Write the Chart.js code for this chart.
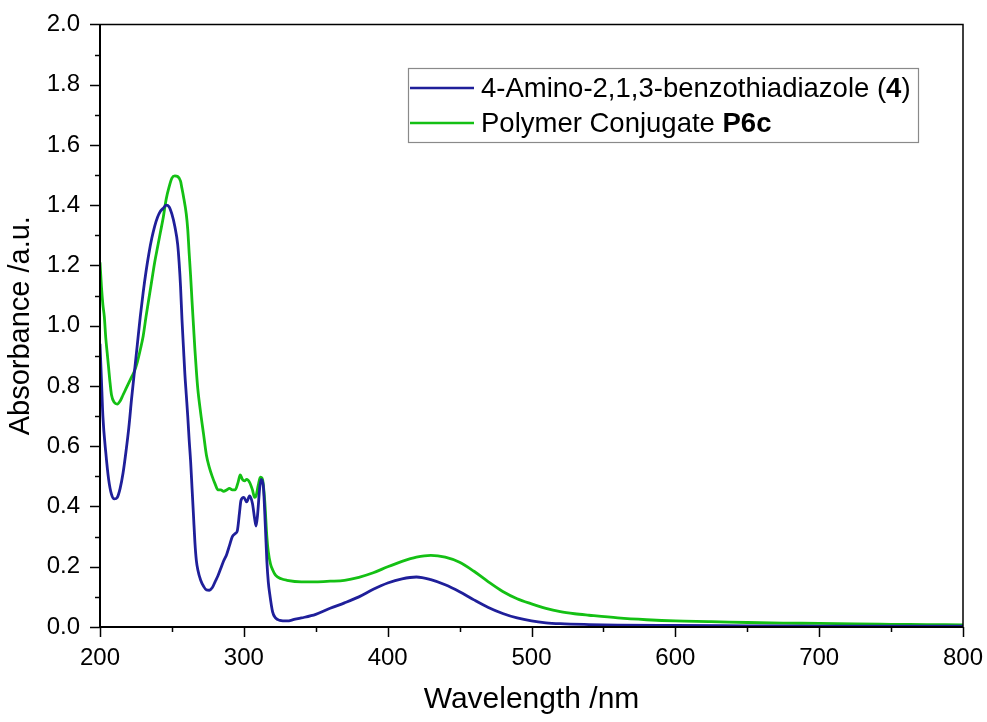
<!DOCTYPE html>
<html>
<head>
<meta charset="utf-8">
<title>UV-Vis absorbance</title>
<script src="https://cdn.jsdelivr.net/npm/chart.js@4/dist/chart.umd.min.js"></script>
<style>
  html, body { margin: 0; padding: 0; background: #ffffff; }
  #chart { display: block; }
</style>
</head>
<body>
<canvas id="chart" width="987" height="722"></canvas>
<script>
// Absorption spectrum of 4-amino-2,1,3-benzothiadiazole (4)
const amineWavelength = [200, 201, 202, 204, 206, 208, 210, 212, 214, 216, 218, 220, 222, 224, 226, 228, 230, 232, 234, 236, 238, 240, 242, 244, 246, 248, 250, 252, 254, 255, 256, 257, 258, 259, 260, 261, 262, 263, 264, 265, 266, 267, 268, 270, 272, 274, 276, 278, 280, 282, 284, 286, 288, 290, 292, 294, 295.5, 297, 298, 300, 302, 304, 306, 307.5, 308.5, 309.5, 311, 312, 313.5, 315, 316, 317, 318, 320, 322, 325, 330, 335, 340, 350, 360, 370, 380, 390, 400, 410, 420, 430, 440, 450, 460, 470, 480, 490, 500, 510, 520, 540, 560, 600, 650, 700, 750, 800];
const amineAbs = [0.94, 0.82, 0.70, 0.58, 0.49, 0.44, 0.425, 0.43, 0.46, 0.51, 0.58, 0.66, 0.76, 0.85, 0.94, 1.03, 1.11, 1.18, 1.24, 1.29, 1.33, 1.36, 1.38, 1.39, 1.40, 1.395, 1.37, 1.33, 1.27, 1.21, 1.13, 1.02, 0.93, 0.84, 0.77, 0.70, 0.62, 0.55, 0.46, 0.37, 0.28, 0.22, 0.19, 0.155, 0.135, 0.123, 0.122, 0.13, 0.15, 0.17, 0.195, 0.22, 0.24, 0.27, 0.30, 0.31, 0.32, 0.38, 0.42, 0.43, 0.415, 0.435, 0.41, 0.36, 0.335, 0.37, 0.46, 0.49, 0.47, 0.33, 0.22, 0.15, 0.11, 0.05, 0.03, 0.022, 0.02, 0.025, 0.03, 0.042, 0.062, 0.08, 0.10, 0.125, 0.146, 0.16, 0.166, 0.157, 0.14, 0.117, 0.09, 0.065, 0.045, 0.03, 0.02, 0.014, 0.011, 0.008, 0.006, 0.005, 0.004, 0.003, 0.003, 0.003];

// Absorption spectrum of polymer conjugate P6c
const polymerWavelength = [200, 201, 202, 203, 204, 205, 206, 207, 208, 210, 212, 214, 216, 218, 220, 222, 224, 226, 228, 230, 232, 234, 236, 238, 240, 242, 244, 246, 248, 250, 252, 254, 256, 257, 258, 260, 261, 262, 263, 264, 265, 266, 267, 268, 270, 272, 274, 276, 278, 280, 282, 284, 286, 288, 290, 292, 294, 296, 297.5, 299, 300.5, 302, 304, 306, 307.5, 308.5, 310, 311.5, 313, 314.5, 316, 317, 318.5, 320, 322, 326, 330, 340, 350, 360, 370, 380, 390, 400, 410, 420, 430, 440, 450, 460, 470, 480, 490, 500, 510, 520, 530, 540, 560, 580, 600, 625, 650, 675, 700, 725, 750, 775, 800];
const polymerAbs = [1.21, 1.13, 1.07, 1.03, 0.96, 0.91, 0.86, 0.81, 0.77, 0.745, 0.74, 0.75, 0.77, 0.79, 0.81, 0.83, 0.85, 0.88, 0.92, 0.965, 1.03, 1.09, 1.15, 1.21, 1.26, 1.31, 1.36, 1.42, 1.46, 1.49, 1.497, 1.495, 1.48, 1.455, 1.43, 1.37, 1.32, 1.24, 1.165, 1.08, 1.0, 0.92, 0.85, 0.79, 0.71, 0.64, 0.57, 0.53, 0.50, 0.475, 0.455, 0.455, 0.45, 0.455, 0.46, 0.455, 0.455, 0.48, 0.505, 0.49, 0.485, 0.49, 0.48, 0.455, 0.43, 0.435, 0.47, 0.497, 0.49, 0.42, 0.30, 0.25, 0.21, 0.19, 0.172, 0.16, 0.155, 0.15, 0.15, 0.152, 0.155, 0.165, 0.18, 0.20, 0.218, 0.232, 0.238, 0.232, 0.215, 0.185, 0.15, 0.118, 0.094, 0.077, 0.062, 0.051, 0.044, 0.039, 0.03, 0.024, 0.02, 0.018, 0.015, 0.013, 0.012, 0.01, 0.009, 0.008, 0.007];

// Axis ranges and tick steps
const xRange = [200, 800];
const xStep = 50;
const yRange = [0, 2.0];
const yStep = 0.1;

const FONT = '"Liberation Sans", Arial, Helvetica, sans-serif';
const BLUE = '#1f1f9a';
const GREEN = '#14c014';

const toPoints = (xs, ys) => xs.map((x, i) => ({ x: x, y: ys[i] }));

// Legend entries: each entry is a list of [text, bold] runs
const legendEntries = [
  { color: BLUE, runs: [['4-Amino-2,1,3-benzothiadiazole (', false], ['4', true], [')', false]] },
  { color: GREEN, runs: [['Polymer Conjugate ', false], ['P6c', true]] }
];

// Draws axis lines, frame and major/minor tick marks
const axesPlugin = {
  id: 'originAxes',
  afterDatasetsDraw(chart) {
    const { ctx, chartArea: a, scales } = chart;
    ctx.save();
    ctx.strokeStyle = '#000';
    ctx.lineCap = 'butt';
    // frame (top and right)
    ctx.lineWidth = 1.5;
    ctx.beginPath();
    ctx.moveTo(a.left, a.top);
    ctx.lineTo(a.right, a.top);
    ctx.lineTo(a.right, a.bottom);
    ctx.stroke();
    // y ticks
    scales.y.ticks.forEach((t) => {
      const y = Math.round(scales.y.getPixelForValue(t.value)) + 0.5;
      const len = Math.round(t.value * 10) % 2 === 0 ? 10 : 5;
      ctx.beginPath();
      ctx.moveTo(a.left - len, y);
      ctx.lineTo(a.left, y);
      ctx.stroke();
    });
    // x ticks
    scales.x.ticks.forEach((t) => {
      const x = Math.round(scales.x.getPixelForValue(t.value)) + 0.5;
      const len = t.value % 100 === 0 ? 10 : 5;
      ctx.beginPath();
      ctx.moveTo(x, a.bottom);
      ctx.lineTo(x, a.bottom + len);
      ctx.stroke();
    });
    // main axis lines
    ctx.lineWidth = 2;
    ctx.beginPath();
    ctx.moveTo(a.left, a.top);
    ctx.lineTo(a.left, a.bottom);
    ctx.lineTo(a.right, a.bottom);
    ctx.stroke();
    ctx.restore();
  }
};

// Boxed legend with mixed-weight labels
const legendPlugin = {
  id: 'boxLegend',
  afterDraw(chart) {
    const ctx = chart.ctx;
    const box = { x: 408, y: 68, w: 510, h: 74 };
    const lineX0 = 410, lineX1 = 474, textX = 481;
    const rows = [88, 123];
    const size = 27.5;
    ctx.save();
    ctx.fillStyle = '#fff';
    ctx.fillRect(box.x, box.y, box.w, box.h);
    ctx.strokeStyle = '#8a8a8a';
    ctx.lineWidth = 1.2;
    ctx.strokeRect(box.x + 0.5, box.y + 0.5, box.w, box.h);
    legendEntries.forEach((entry, i) => {
      const y = rows[i];
      ctx.strokeStyle = entry.color;
      ctx.lineWidth = 2.5;
      ctx.beginPath();
      ctx.moveTo(lineX0, y);
      ctx.lineTo(lineX1, y);
      ctx.stroke();
      let x = textX;
      ctx.fillStyle = '#000';
      ctx.textBaseline = 'middle';
      ctx.textAlign = 'left';
      entry.runs.forEach(([txt, bold]) => {
        ctx.font = (bold ? 'bold ' : '') + size + 'px ' + FONT;
        ctx.fillText(txt, x, y + 1);
        x += ctx.measureText(txt).width;
      });
    });
    ctx.restore();
  }
};

new Chart(document.getElementById('chart'), {
  type: 'line',
  data: {
    datasets: [
      {
        label: '4-Amino-2,1,3-benzothiadiazole (4)',
        data: toPoints(amineWavelength, amineAbs),
        borderColor: BLUE,
        borderWidth: 2.8,
        pointRadius: 0,
        cubicInterpolationMode: 'monotone',
        fill: false
      },
      {
        label: 'Polymer Conjugate P6c',
        data: toPoints(polymerWavelength, polymerAbs),
        borderColor: GREEN,
        borderWidth: 2.8,
        pointRadius: 0,
        cubicInterpolationMode: 'monotone',
        fill: false
      }
    ]
  },
  options: {
    responsive: false,
    animation: false,
    devicePixelRatio: 1,
    layout: { padding: { top: 23, right: 24, left: 0, bottom: 0 } },
    plugins: {
      legend: { display: false },
      tooltip: { enabled: false }
    },
    scales: {
      x: {
        type: 'linear',
        min: xRange[0],
        max: xRange[1],
        afterFit(s) { s.height = 95; s.paddingRight = 0; s.paddingLeft = 0; },
        grid: { display: false, drawTicks: true, tickLength: 10 },
        border: { display: false },
        ticks: {
          stepSize: xStep,
          autoSkip: false,
          maxRotation: 0,
          padding: 7,
          color: '#000',
          font: { family: FONT, size: 24 },
          callback: (v) => (v % 100 === 0 ? String(v) : '')
        },
        title: {
          display: true,
          text: 'Wavelength /nm',
          color: '#000',
          font: { family: FONT, size: 30 },
          padding: { top: 4, bottom: 4 }
        }
      },
      y: {
        type: 'linear',
        min: yRange[0],
        max: yRange[1],
        afterFit(s) { s.width = 100; },
        grid: { display: false, drawTicks: true, tickLength: 10 },
        border: { display: false },
        ticks: {
          stepSize: yStep,
          autoSkip: false,
          padding: 10,
          color: '#000',
          font: { family: FONT, size: 24 },
          callback: (v) => (Math.round(v * 10) % 2 === 0 ? v.toFixed(1) : '')
        },
        title: {
          display: true,
          text: 'Absorbance /a.u.',
          color: '#000',
          font: { family: FONT, size: 29 },
          padding: { top: 4, bottom: 4 }
        }
      }
    }
  },
  plugins: [axesPlugin, legendPlugin]
});
</script>
</body>
</html>
